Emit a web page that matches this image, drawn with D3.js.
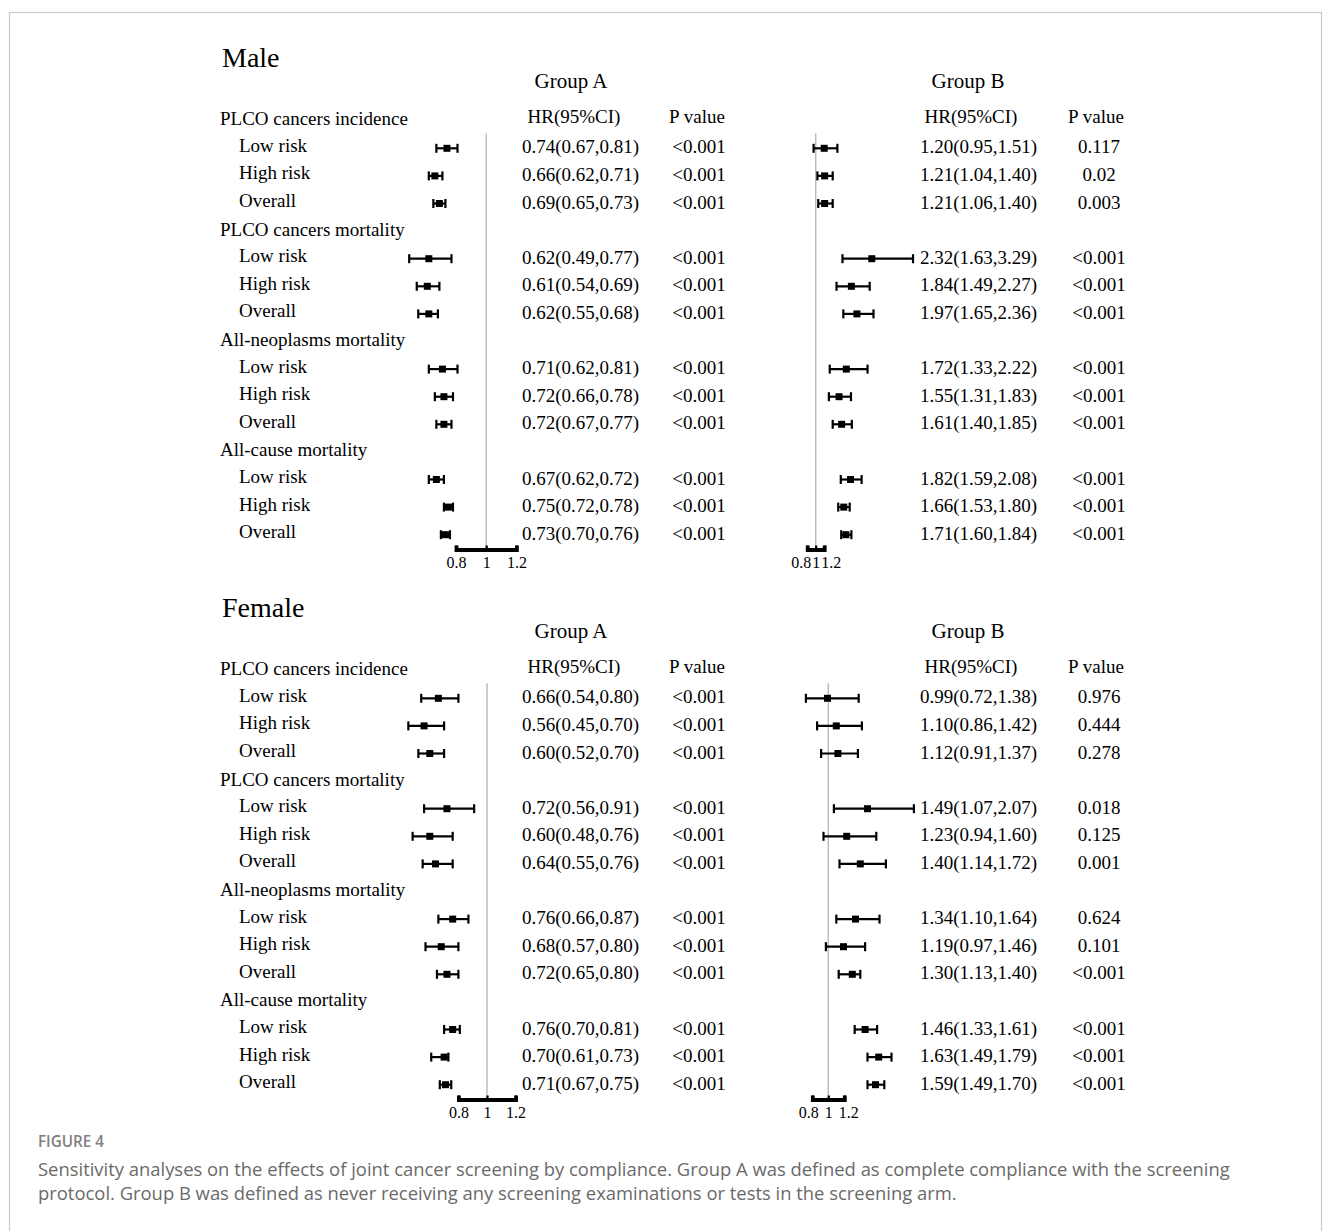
<!DOCTYPE html>
<html>
<head>
<meta charset="utf-8">
<script src="https://cdn.jsdelivr.net/npm/d3@7"></script>
<style>
  html, body { margin: 0; padding: 0; background: #fff; }
  svg { display: block; }
</style>
</head>
<body>
<script>
// ---------------- DATA ----------------
const outcomes = ["PLCO cancers incidence", "PLCO cancers mortality", "All-neoplasms mortality", "All-cause mortality"];
const subgroups = ["Low risk", "High risk", "Overall"];
const axisTicks = [0.8, 1, 1.2];

// Male, Group A
const maleA_hr = [0.74, 0.66, 0.69, 0.62, 0.61, 0.62, 0.71, 0.72, 0.72, 0.67, 0.75, 0.73];
const maleA_lo = [0.67, 0.62, 0.65, 0.49, 0.54, 0.55, 0.62, 0.66, 0.67, 0.62, 0.72, 0.70];
const maleA_hi = [0.81, 0.71, 0.73, 0.77, 0.69, 0.68, 0.81, 0.78, 0.77, 0.72, 0.78, 0.76];
const maleA_p  = ["<0.001", "<0.001", "<0.001", "<0.001", "<0.001", "<0.001", "<0.001", "<0.001", "<0.001", "<0.001", "<0.001", "<0.001"];

// Male, Group B
const maleB_hr = [1.20, 1.21, 1.21, 2.32, 1.84, 1.97, 1.72, 1.55, 1.61, 1.82, 1.66, 1.71];
const maleB_lo = [0.95, 1.04, 1.06, 1.63, 1.49, 1.65, 1.33, 1.31, 1.40, 1.59, 1.53, 1.60];
const maleB_hi = [1.51, 1.40, 1.40, 3.29, 2.27, 2.36, 2.22, 1.83, 1.85, 2.08, 1.80, 1.84];
const maleB_p  = ["0.117", "0.02", "0.003", "<0.001", "<0.001", "<0.001", "<0.001", "<0.001", "<0.001", "<0.001", "<0.001", "<0.001"];

// Female, Group A
const femaleA_hr = [0.66, 0.56, 0.60, 0.72, 0.60, 0.64, 0.76, 0.68, 0.72, 0.76, 0.70, 0.71];
const femaleA_lo = [0.54, 0.45, 0.52, 0.56, 0.48, 0.55, 0.66, 0.57, 0.65, 0.70, 0.61, 0.67];
const femaleA_hi = [0.80, 0.70, 0.70, 0.91, 0.76, 0.76, 0.87, 0.80, 0.80, 0.81, 0.73, 0.75];
const femaleA_p  = ["<0.001", "<0.001", "<0.001", "<0.001", "<0.001", "<0.001", "<0.001", "<0.001", "<0.001", "<0.001", "<0.001", "<0.001"];

// Female, Group B
const femaleB_hr = [0.99, 1.10, 1.12, 1.49, 1.23, 1.40, 1.34, 1.19, 1.30, 1.46, 1.63, 1.59];
const femaleB_lo = [0.72, 0.86, 0.91, 1.07, 0.94, 1.14, 1.10, 0.97, 1.13, 1.33, 1.49, 1.49];
const femaleB_hi = [1.38, 1.42, 1.37, 2.07, 1.60, 1.72, 1.64, 1.46, 1.40, 1.61, 1.79, 1.70];
const femaleB_p  = ["0.976", "0.444", "0.278", "0.018", "0.125", "0.001", "0.624", "0.101", "<0.001", "<0.001", "<0.001", "<0.001"];

const captionLabel = "FIGURE 4";
const captionLines = [
  "Sensitivity analyses on the effects of joint cancer screening by compliance. Group A was defined as complete compliance with the screening",
  "protocol. Group B was defined as never receiving any screening examinations or tests in the screening arm."
];

// ---------------- LAYOUT ----------------
const W = 1333, H = 1231;
const serif = "'Liberation Serif', 'Times New Roman', serif";
const sans = "'Open Sans', 'Noto Sans', sans-serif";

const svg = d3.select("body").append("svg")
  .attr("width", W).attr("height", H)
  .attr("viewBox", `0 0 ${W} ${H}`);

svg.append("rect").attr("width", W).attr("height", H).attr("fill", "#fff");
// frame
svg.append("rect")
  .attr("x", 9.5).attr("y", 12.5)
  .attr("width", 1312).attr("height", 1240)
  .attr("fill", "none").attr("stroke", "#cacaca").attr("stroke-width", 1.2);

const fmt = d3.format(".2f");

const sections = [
  { title: "Male", top: 0,
    panels: [
      { name: "Group A", hr: maleA_hr, lo: maleA_lo, hi: maleA_hi, p: maleA_p, range: [456, 516.4], hrX: 522, pX: 699, titleX: 571, hrHeadX: 574, pHeadX: 697, labelGap: 1 },
      { name: "Group B", hr: maleB_hr, lo: maleB_lo, hi: maleB_hi, p: maleB_p, range: [807.2, 824.2], hrX: 920, pX: 1099, titleX: 968, hrHeadX: 971, pHeadX: 1096, labelGap: 1 }
    ] },
  { title: "Female", top: 550,
    panels: [
      { name: "Group A", hr: femaleA_hr, lo: femaleA_lo, hi: femaleA_hi, p: femaleA_p, range: [458.4, 515.6], hrX: 522, pX: 699, titleX: 571, hrHeadX: 574, pHeadX: 697, labelGap: 1 },
      { name: "Group B", hr: femaleB_hr, lo: femaleB_lo, hi: femaleB_hi, p: femaleB_p, range: [812.3, 844.3], hrX: 920, pX: 1099, titleX: 968, hrHeadX: 971, pHeadX: 1096, labelGap: 6 }
    ] }
];

sections.forEach(sec => {
  const g = svg.append("g").attr("transform", `translate(0,${sec.top})`);
  // line grid: 16 lines (4 outcomes x [header + 3 subgroups])
  const y = d3.scaleLinear().domain([0, 15]).range([120.7, 534.7]);
  const axisY = 549.5;

  g.append("text").attr("x", 222).attr("y", 67)
    .attr("font-family", serif).attr("font-size", 28).attr("fill", "#000")
    .text(sec.title);

  // row labels
  outcomes.forEach((o, k) => {
    g.append("text").attr("x", 220).attr("y", y(4 * k) + 4.5)
      .attr("font-family", serif).attr("font-size", 19).attr("fill", "#000")
      .text(o);
    subgroups.forEach((s, j) => {
      g.append("text").attr("x", 239).attr("y", y(4 * k + j + 1) + 3.5)
        .attr("font-family", serif).attr("font-size", 19).attr("fill", "#000")
        .text(s);
    });
  });

  sec.panels.forEach(pn => {
    const x = d3.scaleLinear().domain([0.8, 1.2]).range(pn.range);
    const pg = g.append("g");

    pg.append("text").attr("x", pn.titleX).attr("y", 88).attr("text-anchor", "middle")
      .attr("font-family", serif).attr("font-size", 21).text(pn.name);
    pg.append("text").attr("x", pn.hrHeadX).attr("y", 123).attr("text-anchor", "middle")
      .attr("font-family", serif).attr("font-size", 19).text("HR(95%CI)");
    pg.append("text").attr("x", pn.pHeadX).attr("y", 123).attr("text-anchor", "middle")
      .attr("font-family", serif).attr("font-size", 19).text("P value");

    // reference line at HR = 1
    pg.append("line")
      .attr("x1", x(1)).attr("x2", x(1))
      .attr("y1", y(0) + 12.5).attr("y2", axisY)
      .attr("stroke", "#bdbdbd").attr("stroke-width", 1.5);

    const rows = pn.hr.map((h, i) => ({
      hr: h, lo: pn.lo[i], hi: pn.hi[i], p: pn.p[i],
      line: Math.floor(i / 3) * 4 + (i % 3) + 1
    }));

    const rg = pg.selectAll("g.row").data(rows).join("g").attr("class", "row");
    rg.append("line")
      .attr("x1", d => x(d.lo)).attr("x2", d => x(d.hi))
      .attr("y1", d => y(d.line)).attr("y2", d => y(d.line))
      .attr("stroke", "#000").attr("stroke-width", 2.2);
    rg.append("line")
      .attr("x1", d => x(d.lo)).attr("x2", d => x(d.lo))
      .attr("y1", d => y(d.line) - 4.5).attr("y2", d => y(d.line) + 4.5)
      .attr("stroke", "#000").attr("stroke-width", 2.2);
    rg.append("line")
      .attr("x1", d => x(d.hi)).attr("x2", d => x(d.hi))
      .attr("y1", d => y(d.line) - 4.5).attr("y2", d => y(d.line) + 4.5)
      .attr("stroke", "#000").attr("stroke-width", 2.2);
    rg.append("rect")
      .attr("x", d => x(d.hr) - 3.5).attr("y", d => y(d.line) - 3.5)
      .attr("width", 7).attr("height", 7).attr("fill", "#000");

    rg.append("text")
      .attr("x", pn.hrX).attr("y", d => y(d.line) + 5)
      .attr("font-family", serif).attr("font-size", 19)
      .text(d => `${fmt(d.hr)}(${fmt(d.lo)},${fmt(d.hi)})`);
    rg.append("text")
      .attr("x", pn.pX).attr("y", d => y(d.line) + 5)
      .attr("text-anchor", "middle")
      .attr("font-family", serif).attr("font-size", 19)
      .text(d => d.p);

    // axis
    const axis = d3.axisBottom(x).tickValues(axisTicks).tickFormat(d3.format(""))
      .tickSizeInner(-4).tickSizeOuter(-4).tickPadding(7);
    const ag = pg.append("g").attr("transform", `translate(0,${axisY})`).call(axis);
    ag.select(".domain").attr("stroke", "#000").attr("stroke-width", 3.8);
    ag.selectAll(".tick line").attr("stroke", "#000").attr("stroke-width", 2.2);
    const labels = ag.selectAll(".tick text")
      .attr("font-family", serif).attr("font-size", 16).attr("fill", "#000");

    // resolve overlapping tick labels by pushing outer labels outward
    const nodes = labels.nodes();
    const midBox = nodes[1].getBBox();
    const midX = x(axisTicks[1]);
    const gap = pn.labelGap;
    const leftN = nodes[0], rightN = nodes[2];
    const lb = leftN.getBBox(), rb = rightN.getBBox();
    const lx = x(axisTicks[0]), rx = x(axisTicks[2]);
    const midLeft = midX - midBox.width / 2, midRight = midX + midBox.width / 2;
    if (lx + lb.width / 2 > midLeft - gap) {
      d3.select(leftN).attr("x", (midLeft - gap - lb.width / 2) - lx);
    }
    if (rx - rb.width / 2 < midRight + gap) {
      d3.select(rightN).attr("x", (midRight + gap + rb.width / 2) - rx);
    }
  });
});

// caption, fitted to the reference widths
function fitText(sel, target) {
  const w = sel.node().getComputedTextLength();
  const fs = parseFloat(sel.attr("font-size"));
  sel.attr("font-size", fs * target / w);
}
const figLab = svg.append("text").attr("x", 38).attr("y", 1147)
  .attr("font-family", sans).attr("font-size", 13).attr("font-weight", 600)
  .attr("fill", "#808080").text(captionLabel);
fitText(figLab, 66);
const capNodes = captionLines.map((t, i) =>
  svg.append("text").attr("x", 38).attr("y", 1176 + i * 24)
    .attr("font-family", sans).attr("font-size", 17)
    .attr("fill", "#6a6a6a").text(t));
fitText(capNodes[0], 1193);
capNodes[1].attr("font-size", capNodes[0].attr("font-size"));
</script>
</body>
</html>
